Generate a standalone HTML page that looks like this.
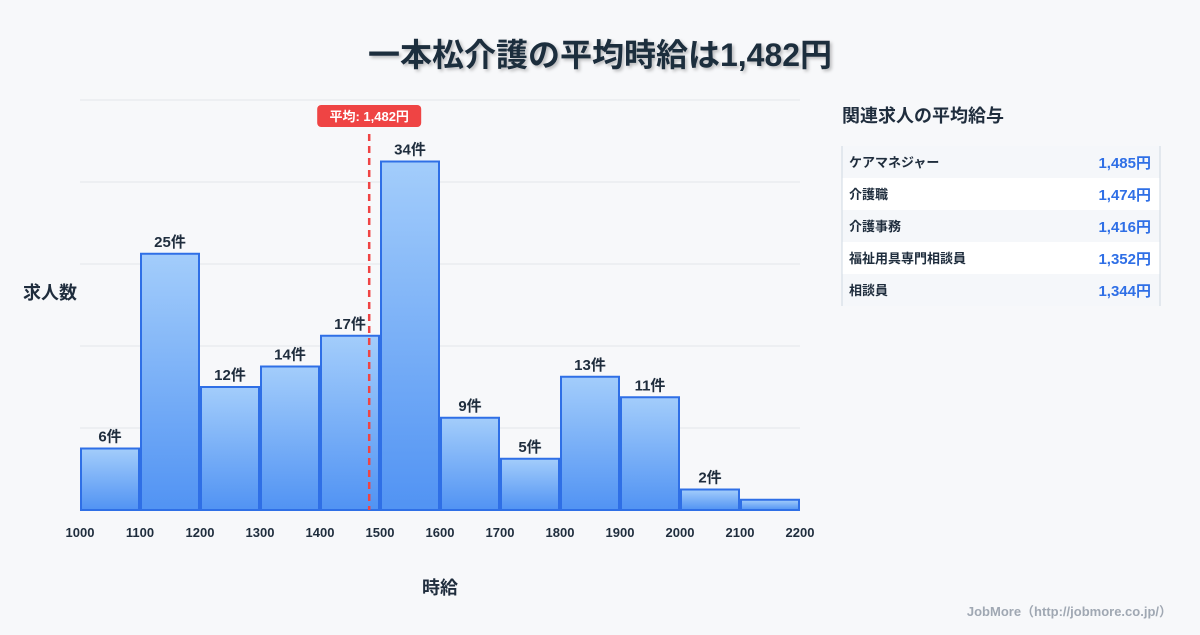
<!DOCTYPE html>
<html><head><meta charset="utf-8"><style>
body{margin:0;width:1200px;height:630px;background:#f7f8fa;font-family:"Liberation Sans","Noto Sans CJK JP",sans-serif;overflow:hidden}
svg text{font-family:"Liberation Sans","Noto Sans CJK JP",sans-serif}
</style></head><body>
<svg id="c" width="1200" height="630">
<defs><linearGradient id="g" x1="0" y1="0" x2="0" y2="1"><stop offset="0" stop-color="#a3cdfb"/><stop offset="1" stop-color="#5193f3"/></linearGradient>
<filter id="sh"><feDropShadow dx="2" dy="2" stdDeviation="1.5" flood-color="#000" flood-opacity="0.25"/></filter></defs>
<text x="600" y="66" text-anchor="middle" font-size="32" font-weight="bold" fill="#1f2d3d" filter="url(#sh)">一本松介護の平均時給は1,482円</text>
<g id="grid"></g><g id="bars"></g><g id="ticks"></g>
<text x="50" y="299" text-anchor="middle" font-size="18" font-weight="bold" fill="#1f2d3d">求人数</text>
<text x="440" y="594" text-anchor="middle" font-size="18" font-weight="bold" fill="#1f2d3d">時給</text>
<text x="842" y="122" font-size="18" font-weight="bold" fill="#1f2d3d">関連求人の平均給与</text>
<g id="tbl"></g>
<text x="1172" y="616" text-anchor="end" font-size="13" font-weight="bold" fill="#a0a8b3">JobMore（http://jobmore.co.jp/）</text>
</svg>
<script>
const bins=[1000,1100,1200,1300,1400,1500,1600,1700,1800,1900,2000,2100];
const counts=[6,25,12,14,17,34,9,5,13,11,2,1];
const xTicks=[1000,1100,1200,1300,1400,1500,1600,1700,1800,1900,2000,2100,2200];
const avgWage=[1482];
const jobNames=["ケアマネジャー","介護職","介護事務","福祉用具専門相談員","相談員"];
const jobWages=[1485,1474,1416,1352,1344];
const NS="http://www.w3.org/2000/svg";
const X=v=>80+(v-1000)*0.6, Y=v=>510-v*410/40;
function mk(t,a,p,txt){const e=document.createElementNS(NS,t);for(const k in a)e.setAttribute(k,a[k]);if(txt!=null)e.textContent=txt;document.getElementById(p).appendChild(e);return e;}
for(let v=0;v<=40;v+=8){const l=mk('line',{x1:80,x2:800,y1:Y(v),y2:Y(v),stroke:'#e3e6ea','stroke-width':1},'grid');

}
bins.forEach((b,i)=>{const x=X(b)+1,w=X(b+100)-X(b)-2,y=Y(counts[i]);
const r=mk('rect',{x:x,y:y,width:w,height:510-y,fill:'url(#g)',stroke:'#2f6fe6','stroke-width':2},'bars');


if(counts[i]>1){const t=mk('text',{x:x+w/2,y:y-7,'text-anchor':'middle','font-size':15,'font-weight':'bold',fill:'#1f2d3d'},'bars',counts[i]+'件');

}});
xTicks.forEach(v=>{const t=mk('text',{x:X(v),y:537,'text-anchor':'middle','font-size':13,'font-weight':'bold',fill:'#1f2d3d'},'ticks',v);

});
const ax=X(avgWage[0]);
const al=mk('line',{x1:ax,x2:ax,y1:134,y2:510,stroke:'#ef4444','stroke-width':2.5,'stroke-dasharray':'7,5'},'bars');


const ab=mk('rect',{x:ax-52,y:105,width:104,height:22,rx:4,fill:'#ef4444'},'bars');


const at=mk('text',{x:ax,y:121,'text-anchor':'middle','font-size':13,'font-weight':'bold',fill:'#fff'},'bars','平均: '+avgWage[0].toLocaleString('en-US')+'円');


jobNames.forEach((n,i)=>{const y=146+i*32;
const r=mk('rect',{x:842,y:y,width:318,height:32,fill:i%2?'#ffffff':'#f5f7fa'},'tbl');


const a=mk('text',{x:849,y:y+21,'font-size':13,'font-weight':'bold',fill:'#1f2d3d'},'tbl',n);


const b=mk('text',{x:1151,y:y+22,'text-anchor':'end','font-size':15,'font-weight':'bold',fill:'#2f6fe6'},'tbl',jobWages[i].toLocaleString('en-US')+'円');

});
mk('line',{x1:842,x2:842,y1:146,y2:306,stroke:'#cfd8e3'},'tbl');
mk('line',{x1:1160,x2:1160,y1:146,y2:306,stroke:'#cfd8e3'},'tbl');
</script>
</body></html>
